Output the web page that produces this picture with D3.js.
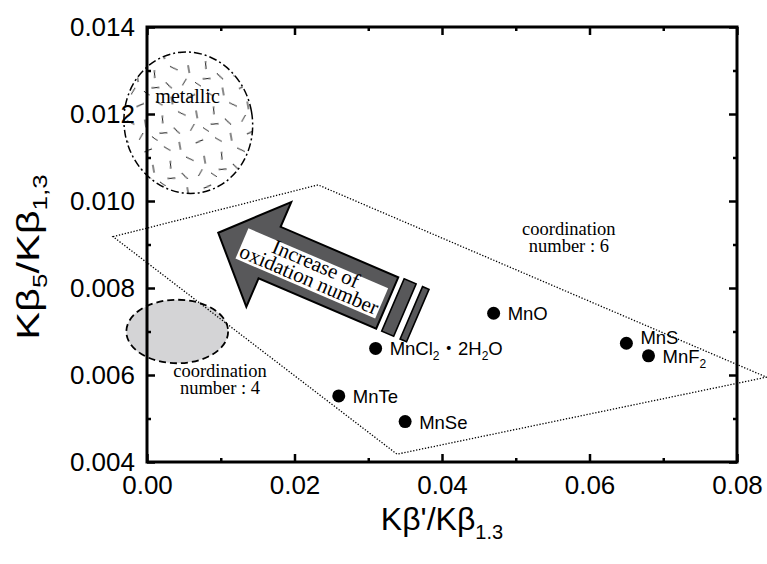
<!DOCTYPE html>
<html>
<head>
<meta charset="utf-8">
<script src="https://cdn.jsdelivr.net/npm/d3@7"></script>
<style>
  body { margin: 0; background: #fff; }
  svg { display: block; }
</style>
</head>
<body>
<svg id="chart" width="767" height="564"></svg>
<script>
// compounds ("_" marks a subscript digit)
const names = ["MnO", "MnCl_2・2H_2O", "MnTe", "MnSe", "MnS", "MnF_2"];
const kbPrimeRatio = [0.0470, 0.0310, 0.0260, 0.0350, 0.0650, 0.0680];
const kb5Ratio = [0.00742, 0.00661, 0.00552, 0.00493, 0.00673, 0.00644];

const xTicks = [0, 0.02, 0.04, 0.06, 0.08];
const xMinor = [0.01, 0.03, 0.05, 0.07];
const yTicks = [0.004, 0.006, 0.008, 0.010, 0.012, 0.014];
const yMinor = [0.005, 0.007, 0.009, 0.011, 0.013];

// coordination number 6 region (dotted quadrilateral)
const cn6X = [-0.0046, 0.0232, 0.0840, 0.0339];
const cn6Y = [0.00918, 0.01037, 0.00595, 0.00418];

// ellipses as [cx, cy, rx, ry] in data units
const cn4Ellipse = [0.0041, 0.00700, 0.0069, 0.00073];
const metalEllipse = [0.0056, 0.01180, 0.0087, 0.00163];

const sans = "Arial, 'Liberation Sans', Helvetica, sans-serif";
const serif = "'Times New Roman', 'Liberation Serif', Times, serif";

const svg = d3.select("#chart");
const x = d3.scaleLinear().domain([0, 0.08]).range([147, 737]);
const y = d3.scaleLinear().domain([0.004, 0.014]).range([462, 27]);

// sparse dash texture for the metallic region
const defs = svg.append("defs");
const pat = defs.append("pattern")
  .attr("id", "dashes")
  .attr("patternUnits", "userSpaceOnUse")
  .attr("width", 52).attr("height", 46);
const segs = [[4,4,10,9],[20,2,20,10],[36,6,44,4],[8,19,7,27],[24,18,31,23],
              [42,20,42,28],[2,36,10,37],[17,33,22,40],[33,39,38,33],[46,38,51,43]];
pat.selectAll("line").data(segs).enter().append("line")
  .attr("x1", d => d[0]).attr("y1", d => d[1])
  .attr("x2", d => d[2]).attr("y2", d => d[3])
  .attr("stroke", "#111").attr("stroke-width", 1);

// metallic ellipse
const mcx = x(metalEllipse[0]), mcy = y(metalEllipse[1]);
const mrx = x(metalEllipse[2]) - x(0), mry = y(0.004) - y(0.004 + metalEllipse[3]);
svg.append("ellipse")
  .attr("cx", mcx).attr("cy", mcy).attr("rx", mrx).attr("ry", mry)
  .attr("transform", `rotate(-10,${mcx},${mcy})`)
  .attr("fill", "url(#dashes)")
  .attr("stroke", "#000").attr("stroke-width", 1.5)
  .attr("stroke-dasharray", "8,3,2,3");

// coordination number 4 ellipse
svg.append("ellipse")
  .attr("cx", x(cn4Ellipse[0])).attr("cy", y(cn4Ellipse[1]))
  .attr("rx", x(cn4Ellipse[2]) - x(0))
  .attr("ry", y(0.004) - y(0.004 + cn4Ellipse[3]))
  .attr("fill", "#d4d4d6")
  .attr("stroke", "#000").attr("stroke-width", 1.8)
  .attr("stroke-dasharray", "7,4");

// frame
svg.append("rect")
  .attr("x", x(0)).attr("y", y(0.014))
  .attr("width", x(0.08) - x(0)).attr("height", y(0.004) - y(0.014))
  .attr("fill", "none").attr("stroke", "#000").attr("stroke-width", 3);

function styleAxis(g) {
  g.select(".domain").remove();
  g.selectAll(".tick line").attr("stroke", "#000").attr("stroke-width", 2.5);
  g.selectAll(".tick text")
    .attr("font-family", sans).attr("font-size", 26).attr("fill", "#000");
}
const noLabel = () => "";

svg.append("g").attr("transform", `translate(0,${y(0.004)})`)
  .call(d3.axisBottom(x).tickValues(xTicks).tickFormat(d3.format(".2f"))
    .tickSize(-8).tickSizeOuter(0).tickPadding(14)).call(styleAxis);
svg.append("g").attr("transform", `translate(0,${y(0.004)})`)
  .call(d3.axisBottom(x).tickValues(xMinor).tickFormat(noLabel).tickSize(-4)).call(styleAxis);
svg.append("g").attr("transform", `translate(0,${y(0.014)})`)
  .call(d3.axisTop(x).tickValues(xTicks).tickFormat(noLabel).tickSize(-8)).call(styleAxis);
svg.append("g").attr("transform", `translate(0,${y(0.014)})`)
  .call(d3.axisTop(x).tickValues(xMinor).tickFormat(noLabel).tickSize(-4)).call(styleAxis);

svg.append("g").attr("transform", `translate(${x(0)},0)`)
  .call(d3.axisLeft(y).tickValues(yTicks).tickFormat(d3.format(".3f"))
    .tickSize(-8).tickSizeOuter(0).tickPadding(12)).call(styleAxis);
svg.append("g").attr("transform", `translate(${x(0)},0)`)
  .call(d3.axisLeft(y).tickValues(yMinor).tickFormat(noLabel).tickSize(-4)).call(styleAxis);
svg.append("g").attr("transform", `translate(${x(0.08)},0)`)
  .call(d3.axisRight(y).tickValues(yTicks).tickFormat(noLabel).tickSize(-8)).call(styleAxis);
svg.append("g").attr("transform", `translate(${x(0.08)},0)`)
  .call(d3.axisRight(y).tickValues(yMinor).tickFormat(noLabel).tickSize(-4)).call(styleAxis);

// axis titles
const yt = svg.append("text")
  .attr("transform", "translate(39,257) rotate(-90) scale(1.3,1)")
  .attr("text-anchor", "middle")
  .attr("font-family", sans).attr("font-size", 32);
yt.append("tspan").text("Kβ");
yt.append("tspan").attr("font-size", 20).attr("dy", 8).text("5");
yt.append("tspan").attr("dy", -8).text("/Kβ");
yt.append("tspan").attr("font-size", 20).attr("dy", 8).text("1,3");

const xt = svg.append("text")
  .attr("x", (x(0) + x(0.08)) / 2).attr("y", 530)
  .attr("text-anchor", "middle")
  .attr("font-family", sans).attr("font-size", 32);
xt.append("tspan").text("Kβ'/Kβ");
xt.append("tspan").attr("font-size", 20).attr("dy", 9).text("1.3");

// coordination number 6 region
const cn6 = cn6X.map((v, i) => [x(v), y(cn6Y[i])]);
svg.append("path")
  .attr("d", d3.line()(cn6) + "Z")
  .attr("fill", "none").attr("stroke", "#000")
  .attr("stroke-width", 1.3).attr("stroke-dasharray", "1.3,1.7");

// region labels
function twoLines(cx, by, l1, l2, size) {
  const t = svg.append("text").attr("text-anchor", "middle")
    .attr("font-family", serif).attr("font-size", size).attr("fill", "#000");
  t.append("tspan").attr("x", cx).attr("y", by).text(l1);
  if (l2) t.append("tspan").attr("x", cx).attr("y", by + 17).text(l2);
}
twoLines(x(0.0055), y(0.01225), "metallic", null, 20);
twoLines(x(0.0099), y(0.00596), "coordination", "number : 4", 18.5);
twoLines(x(0.0572), y(0.00922), "coordination", "number : 6", 18.5);

// "increase of oxidation number" arrow
const tipX = x(0.00966), tipY = y(0.00927);
const arrow = svg.append("g").attr("transform", `translate(${tipX},${tipY}) rotate(23.2)`);
const arrowPts = [[0,0],[55,-57],[55,-30],[183,-30],[183,26],[55,26],[55,57]];
arrow.append("path")
  .attr("d", d3.line()(arrowPts) + "Z")
  .attr("fill", "#58585a").attr("stroke", "#000").attr("stroke-width", 2)
  .attr("stroke-linejoin", "miter");
arrow.append("rect").attr("x", 189).attr("y", -31).attr("width", 13).attr("height", 57)
  .attr("fill", "#58585a").attr("stroke", "#000").attr("stroke-width", 1.6);
arrow.append("rect").attr("x", 209).attr("y", -31).attr("width", 7).attr("height", 57)
  .attr("fill", "#58585a").attr("stroke", "#000").attr("stroke-width", 1.6);
arrow.append("rect").attr("x", 26).attr("y", -16).attr("width", 152).attr("height", 33)
  .attr("fill", "#fff");
const at = arrow.append("text").attr("text-anchor", "middle")
  .attr("font-family", serif).attr("font-size", 21).attr("fill", "#000");
at.append("tspan").attr("x", 102).attr("y", -3).text("Increase of");
at.append("tspan").attr("x", 102).attr("y", 14).text("oxidation number");

// data points
const pts = names.map((n, i) => ({ name: n, xv: kbPrimeRatio[i], yv: kb5Ratio[i] }));
svg.append("g").selectAll("circle").data(pts).enter().append("circle")
  .attr("cx", d => x(d.xv)).attr("cy", d => y(d.yv)).attr("r", 6.5)
  .attr("fill", "#000");

const labels = svg.append("g").selectAll("text").data(pts).enter().append("text")
  .attr("x", d => x(d.xv) + 14)
  .attr("y", d => y(d.yv) + (d.name === "MnS" ? 1 : 7))
  .attr("font-family", sans + ", 'Noto Sans CJK JP'").attr("font-size", 18.5).attr("fill", "#000");
labels.each(function (d) {
  const t = d3.select(this);
  const parts = d.name.split("_");
  parts.forEach((p, k) => {
    if (k === 0) { t.append("tspan").text(p); return; }
    t.append("tspan").attr("font-size", 12).attr("dy", 5).text(p[0]);
    if (p.length > 1) t.append("tspan").attr("dy", -5).text(p.slice(1));
  });
});
</script>
</body>
</html>
